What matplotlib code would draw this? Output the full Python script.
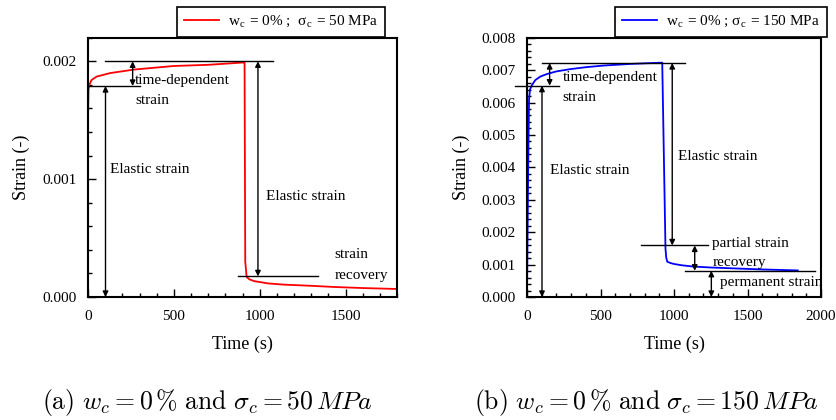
import matplotlib.pyplot as plt
from matplotlib.ticker import MultipleLocator, FormatStrFormatter

plt.rcParams['font.family'] = ['Liberation Serif', 'DejaVu Serif']
plt.rcParams['mathtext.fontset'] = 'cm'

# (a) w_c = 0 %, sigma_c = 50 MPa
t_a = [0, 0, 3, 8, 20, 50, 130, 270, 500, 700, 908, 912, 916, 924, 940, 967,
       1050, 1142, 1300, 1434, 1600, 1800]
strain_a = [0, 0.00150, 0.00176, 0.00180, 0.00184, 0.00187, 0.00190, 0.00193,
            0.00196, 0.00197, 0.00199, 0.00199, 0.00030, 0.00017, 0.00015,
            0.000135, 0.000115, 0.000105, 0.000095, 0.000085, 0.000076, 0.000068]

# (b) w_c = 0 %, sigma_c = 150 MPa
t_b = [0, 8, 14, 20, 34, 56, 90, 136, 200, 294, 400, 520, 700, 859, 920,
       942, 947, 954, 975, 999, 1050, 1130, 1250, 1424, 1600, 1842]
strain_b = [0, 0.0040, 0.0061, 0.0064, 0.00654, 0.00669, 0.00680, 0.00688,
            0.00696, 0.00703, 0.00709, 0.00714, 0.00719, 0.00722, 0.00723,
            0.00150, 0.00122, 0.00109, 0.00105, 0.00102, 0.00098, 0.00094,
            0.00091, 0.00088, 0.00085, 0.00082]

label_a = r'w$_\mathregular{c}$ = 0% ;  σ$_\mathregular{c}$ = 50 MPa'
label_b = r'w$_\mathregular{c}$ = 0% ; σ$_\mathregular{c}$ = 150 MPa'
caption_a = r'$\mathrm{(a)}\ w_c = 0\,\%\ \mathrm{and}\ \sigma_c = 50\,MPa$'
caption_b = r'$\mathrm{(b)}\ w_c = 0\,\%\ \mathrm{and}\ \sigma_c = 150\,MPa$'


def darrow(ax, x, y0, y1):
    ax.annotate('', xy=(x, y1), xytext=(x, y0),
                arrowprops=dict(arrowstyle='<|-|>', color='k', lw=1,
                                shrinkA=0, shrinkB=0, mutation_scale=8))


def hline(ax, y, x0, x1):
    ax.plot([x0, x1], [y, y], color='k', lw=1, clip_on=False)


def style(ax, xmax, ymax, xmajor, ymajor):
    ax.set_xlim(0, xmax)
    ax.set_ylim(0, ymax)
    ax.xaxis.set_major_locator(MultipleLocator(xmajor))
    ax.xaxis.set_minor_locator(MultipleLocator(100))
    ax.yaxis.set_major_locator(MultipleLocator(ymajor))
    ax.yaxis.set_minor_locator(MultipleLocator(0.0002))
    ax.yaxis.set_major_formatter(FormatStrFormatter('%.3f'))
    ax.tick_params(which='both', direction='in', labelsize=11, width=1)
    ax.tick_params(which='major', length=6)
    ax.tick_params(which='minor', length=3)
    ax.tick_params(axis='x', which='major', pad=9)
    ax.tick_params(axis='y', which='major', pad=8)
    for s in ax.spines.values():
        s.set_linewidth(1.5)
    ax.set_xlabel('Time (s)', fontsize=13)
    ax.set_ylabel('Strain (-)', fontsize=13)
    ax.xaxis.set_label_coords(0.5, -0.148)


fig = plt.figure(figsize=(8.36, 4.2), dpi=100)
ax1 = fig.add_axes([88 / 836, 1 - 297 / 420, 309 / 836, 259.3 / 420])
ax2 = fig.add_axes([527 / 836, 1 - 297 / 420, 294 / 836, 259.3 / 420])

# panel (a)
ax1.plot(t_a, strain_a, color='#ff0000', lw=1.3, label=label_a)
style(ax1, 1800, 0.0022, 500, 0.001)
ax1.yaxis.set_label_coords(-0.188, 0.5)
hline(ax1, 0.002, 100, 1080)
hline(ax1, 0.00179, 0, 305)
hline(ax1, 0.000175, 875, 1337)
darrow(ax1, 260, 0.00179, 0.002)
darrow(ax1, 102, 0, 0.00179)
darrow(ax1, 990, 0.002, 0.000175)
ax1.text(275, 0.00184, 'time-dependent', fontsize=11, va='center')
ax1.text(275, 0.00167, 'strain', fontsize=11, va='center')
ax1.text(130, 0.00108, 'Elastic strain', fontsize=11, va='center')
ax1.text(1035, 0.00085, 'Elastic strain', fontsize=11, va='center')
ax1.text(1434, 0.00036, 'strain', fontsize=11, va='center')
ax1.text(1434, 0.00018, 'recovery', fontsize=11, va='center')

# panel (b)
ax2.plot(t_b, strain_b, color='#0000ff', lw=1.3, label=label_b)
style(ax2, 2000, 0.008, 500, 0.001)
ax2.yaxis.set_label_coords(-0.194, 0.5)
hline(ax2, 0.00722, 102, 1078)
hline(ax2, 0.00652, -79, 221)
hline(ax2, 0.00159, 775, 1232)
hline(ax2, 0.00081, 1078, 1962)
darrow(ax2, 154, 0.00652, 0.00722)
darrow(ax2, 102, 0, 0.00652)
darrow(ax2, 988, 0.00722, 0.00159)
darrow(ax2, 1141, 0.00159, 0.00081)
darrow(ax2, 1254, 0.00081, 0)
ax2.text(244, 0.00678, 'time-dependent', fontsize=11, va='center')
ax2.text(244, 0.00616, 'strain', fontsize=11, va='center')
ax2.text(154, 0.0039, 'Elastic strain', fontsize=11, va='center')
ax2.text(1028, 0.00433, 'Elastic strain', fontsize=11, va='center')
ax2.text(1261, 0.00166, 'partial strain', fontsize=11, va='center')
ax2.text(1261, 0.00105, 'recovery', fontsize=11, va='center')
ax2.text(1311, 0.00045, 'permanent strain', fontsize=11, va='center')

for ax, right in [(ax1, 385), (ax2, 827)]:
    leg = ax.legend(loc='upper right', bbox_to_anchor=(right / 836, 1 - 7 / 420),
                    bbox_transform=fig.transFigure, fontsize=11, frameon=True,
                    fancybox=False, edgecolor='k', framealpha=1,
                    handlelength=2.3, handletextpad=0.6, borderpad=0.45,
                    borderaxespad=0)
    leg.get_frame().set_linewidth(1.2)

fig.text(207 / 836, 1 - 402 / 420, caption_a, ha='center', va='center',
         fontsize=18.5, math_fontfamily='cm')
fig.text(646 / 836, 1 - 402 / 420, caption_b, ha='center', va='center',
         fontsize=18.5, math_fontfamily='cm')

fig.savefig('out.png', dpi=100)
